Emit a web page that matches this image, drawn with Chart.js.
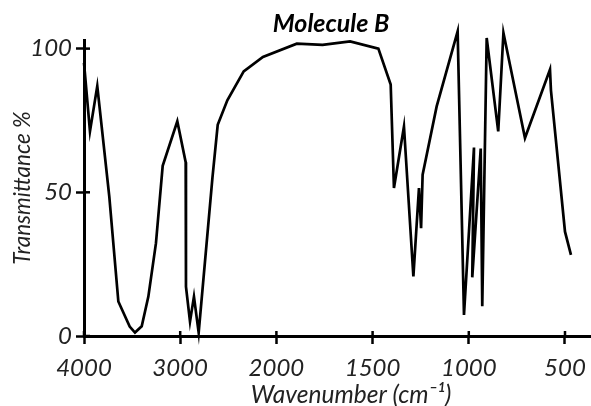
<!DOCTYPE html>
<html>
<head>
<meta charset="utf-8">
<script src="https://cdn.jsdelivr.net/npm/chart.js@4.4.1/dist/chart.umd.min.js"></script>
<style>
  html, body { margin: 0; padding: 0; background: #fff; }
  #wrap { width: 591px; height: 406px; position: relative; }
</style>
</head>
<body>
<div id="wrap"><canvas id="c"></canvas></div>
<script>
// ---- Data ----
const chartTitle = 'Molecule B';
const xAxisTitle = 'Wavenumber (cm\u207B\u00B9)';
const yAxisTitle = 'Transmittance %';
const xTickLabels = ['4000', '3000', '2000', '1500', '1000', '500'];
const xTickValues = [4000, 3000, 2000, 1500, 1000, 500];
const yTickValues = [0, 50, 100];

const wavenumbers = [
  4000, 3938, 3862, 3737, 3643, 3525, 3470, 3400, 3331, 3252, 3182, 3030,
  2943, 2940, 2898, 2857, 2808, 2665, 2610, 2510, 2340, 2140, 1894, 1760,
  1617, 1470, 1406, 1389, 1337, 1288, 1259, 1248, 1240, 1167, 1058, 1025,
  973, 982, 938, 930, 907, 847, 820, 708, 578, 573, 500, 469
];
const transmittance = [
  95, 71.2, 87, 48.5, 12, 3.3, 1.2, 3.4, 13.7, 32.3, 59.2, 74.7,
  60.5, 17.2, 5.0, 13.7, 1.2, 55, 73.5, 82, 92.1, 97.1, 101.7, 101.3,
  102.5, 100.0, 87.5, 51.5, 72.9, 20.7, 51.5, 37.5, 56.1, 79.9, 106, 7.3,
  65.6, 20.4, 65.2, 10.4, 103.7, 71.2, 105.5, 68.9, 92.7, 85.5, 36.3, 28.2
];

// IR-style axis: 4000-2000 at 1000 per division, 2000-500 at 500 per division
function axisPos(w) {
  return w >= 2000 ? (4000 - w) / 1000 : 2 + (2000 - w) / 500;
}

const points = wavenumbers.map((w, i) => ({ x: axisPos(w), y: transmittance[i] }));

const FONT = 'Lato, "Open Sans", sans-serif';
const PLOT_RIGHT = 618; // plot area continues past the right edge of the picture

const extendX = {
  id: 'extendX',
  afterLayout(chart) {
    const x = chart.scales.x;
    x.right = PLOT_RIGHT;
    x.width = PLOT_RIGHT - x.left;
    chart.chartArea.right = PLOT_RIGHT;
    chart.chartArea.width = PLOT_RIGHT - chart.chartArea.left;
    x.configure();
  }
};

const crossTicks = {
  id: 'crossTicks',
  afterDatasetsDraw(chart) {
    const { ctx, chartArea, scales: { x, y } } = chart;
    ctx.save();
    ctx.strokeStyle = '#000';
    ctx.lineWidth = 2.5;
    x.ticks.forEach(t => {
      const px = x.getPixelForValue(t.value);
      ctx.beginPath();
      ctx.moveTo(px, chartArea.bottom);
      ctx.lineTo(px, chartArea.bottom - 5);
      ctx.stroke();
    });
    y.ticks.forEach(t => {
      const py = y.getPixelForValue(t.value);
      ctx.beginPath();
      ctx.moveTo(chartArea.left, py);
      ctx.lineTo(chartArea.left + 6, py);
      ctx.stroke();
    });
    ctx.restore();
  }
};

const mainTitle = {
  id: 'mainTitle',
  afterDraw(chart) {
    const { ctx } = chart;
    ctx.save();
    ctx.font = 'italic bold 25px ' + FONT;
    ctx.fillStyle = '#000';
    ctx.textAlign = 'center';
    ctx.textBaseline = 'middle';
    ctx.fillText(chartTitle, 331, 24);
    ctx.restore();
  }
};

new Chart(document.getElementById('c'), {
  type: 'line',
  data: {
    datasets: [{
      data: points,
      borderColor: '#000',
      borderWidth: 2.7,
      pointRadius: 0,
      tension: 0,
      fill: false,
      clip: false
    }]
  },
  options: {
    responsive: true,
    maintainAspectRatio: false,
    animation: false,
    layout: { padding: { top: 40, right: 0, left: 0, bottom: 0 } },
    plugins: {
      legend: { display: false },
      tooltip: { enabled: false },
      title: { display: false }
    },
    scales: {
      x: {
        type: 'linear',
        min: 0,
        max: 5.551,
        afterBuildTicks: (axis) => { axis.ticks = xTickValues.map(w => ({ value: axisPos(w) })); },
        afterFit: (axis) => { axis.height = 70; },
        ticks: {
          autoSkip: false,
          maxRotation: 0,
          padding: 10,
          color: '#222',
          font: { family: FONT, size: 24, style: 'italic' },
          callback: (v, i) => xTickLabels[i]
        },
        grid: {
          drawOnChartArea: false,
          drawTicks: true,
          tickLength: 8,
          tickWidth: 2.5,
          tickColor: '#000'
        },
        border: { display: true, color: '#000', width: 3 },
        title: {
          display: true,
          text: xAxisTitle,
          color: '#222',
          font: { family: FONT, size: 24.5, style: 'italic', lineHeight: 0.86 },
          padding: { top: 0, bottom: 0 }
        }
      },
      y: {
        type: 'linear',
        min: 0,
        max: 103,
        afterBuildTicks: (axis) => { axis.ticks = yTickValues.map(v => ({ value: v })); },
        afterFit: (axis) => { axis.width = 84; },
        ticks: {
          autoSkip: false,
          padding: 4,
          color: '#222',
          font: { family: FONT, size: 24, style: 'italic' },
          callback: (v) => String(v)
        },
        grid: {
          drawOnChartArea: false,
          drawTicks: true,
          tickLength: 8,
          tickWidth: 2.5,
          tickColor: '#000'
        },
        border: { display: true, color: '#000', width: 3 },
        title: {
          display: true,
          text: yAxisTitle,
          color: '#222',
          font: { family: FONT, size: 22.5, style: 'italic' },
          padding: { top: 9, bottom: 0 }
        }
      }
    }
  },
  plugins: [extendX, crossTicks, mainTitle]
});
</script>
</body>
</html>
